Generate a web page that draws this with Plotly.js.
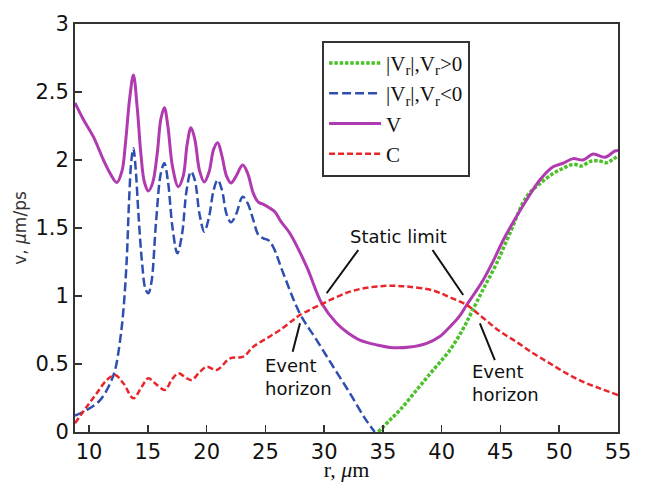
<!DOCTYPE html>
<html><head><meta charset="utf-8">
<script src="https://cdn.plot.ly/plotly-3.0.1.min.js"></script>
<style>html,body{margin:0;padding:0;background:#fff}</style>
</head><body>
<div id="chart" style="width:646px;height:482px"></div>
<script>
// V (solid magenta)
const vX = [8.8, 9.5, 10.37, 11.22, 11.8, 12.36, 12.8, 13.1, 13.45, 13.77, 14.1, 14.4, 14.7, 15.04, 15.4, 15.8, 16.1, 16.4, 16.7, 17.1, 17.59, 18.0, 18.35, 18.67, 19.0, 19.4, 19.8, 20.2, 20.6, 20.94, 21.3, 21.7, 22.07, 22.5, 23.07, 23.5, 23.97, 24.4, 24.8, 25.39, 25.8, 26.3, 27.09, 28.51, 29.79, 31.06, 32.0, 33.04, 34.5, 35.88, 37.3, 38.72, 39.8, 40.7, 41.5, 42.12, 42.8, 43.53, 44.4, 45.23, 46.2, 47.22, 48.35, 49.48, 50.33, 51.18, 52.03, 52.88, 53.88, 54.73, 55];
const vY = [2.42, 2.30, 2.17, 2.0, 1.90, 1.835, 1.92, 2.13, 2.45, 2.625, 2.38, 2.05, 1.84, 1.772, 1.83, 2.05, 2.3, 2.385, 2.25, 1.95, 1.804, 1.88, 2.12, 2.238, 2.15, 1.92, 1.838, 1.91, 2.08, 2.127, 2.03, 1.88, 1.831, 1.88, 1.963, 1.90, 1.755, 1.69, 1.675, 1.645, 1.62, 1.55, 1.46, 1.216, 0.946, 0.799, 0.73, 0.676, 0.64, 0.62, 0.625, 0.652, 0.70, 0.774, 0.85, 0.934, 1.02, 1.118, 1.26, 1.41, 1.56, 1.706, 1.853, 1.95, 1.976, 2.01, 2.00, 2.044, 2.02, 2.066, 2.07];

// |Vr|, Vr<0 (blue dashed)
const negX = [8.8, 9.8, 10.94, 11.79, 12.21, 12.64, 12.92, 13.2, 13.4, 13.6, 13.77, 13.95, 14.2, 14.5, 14.8, 15.04, 15.3, 15.7, 16.1, 16.4, 16.7, 17.1, 17.51, 17.9, 18.3, 18.67, 19.0, 19.4, 19.8, 20.2, 20.6, 20.94, 21.3, 21.7, 22.07, 22.5, 23.07, 23.5, 23.97, 24.4, 24.82, 25.25, 25.67, 26.52, 27.94, 29.36, 30.77, 32.19, 33.47, 34.3];
const negY = [0.12, 0.162, 0.235, 0.358, 0.456, 0.676, 0.897, 1.265, 1.7, 2.0, 2.086, 1.95, 1.6, 1.25, 1.05, 1.02, 1.1, 1.55, 1.9, 1.976, 1.85, 1.5, 1.314, 1.45, 1.78, 1.914, 1.85, 1.6, 1.473, 1.58, 1.78, 1.853, 1.78, 1.6, 1.542, 1.6, 1.73, 1.68, 1.559, 1.45, 1.424, 1.41, 1.36, 1.167, 0.87, 0.676, 0.48, 0.285, 0.10, 0];

// |Vr|, Vr>0 (green dotted)
const posX = [34.6, 35.6, 36.45, 37.87, 39.28, 40.7, 41.83, 42.54, 43.53, 44.67, 45.8, 47.22, 48.4, 49.48, 50.33, 51.18, 51.9, 52.6, 53.3, 54.02, 54.58, 55];
const posY = [0, 0.088, 0.162, 0.309, 0.456, 0.603, 0.76, 0.88, 1.05, 1.24, 1.461, 1.73, 1.83, 1.90, 1.939, 1.968, 1.956, 1.988, 1.995, 1.98, 2.005, 2.03];

// C (red dashed)
const cX = [8.8, 9.8, 10.65, 11.5, 12.21, 12.92, 13.77, 14.48, 15.04, 15.61, 16.46, 17.0, 17.59, 18.31, 18.73, 19.4, 20.01, 20.86, 21.99, 23.12, 23.97, 25.11, 26.24, 27.37, 27.94, 29.92, 32.19, 34.0, 35.5, 37.0, 39.28, 40.7, 42.12, 43.5, 44.95, 46.4, 47.78, 49.2, 50.62, 52.0, 53.45, 55];
const cY = [0.064, 0.186, 0.285, 0.382, 0.419, 0.358, 0.248, 0.333, 0.395, 0.358, 0.309, 0.38, 0.431, 0.395, 0.382, 0.44, 0.48, 0.456, 0.542, 0.554, 0.627, 0.689, 0.75, 0.824, 0.86, 0.946, 1.032, 1.065, 1.075, 1.07, 1.04, 0.99, 0.934, 0.84, 0.74, 0.66, 0.579, 0.505, 0.431, 0.37, 0.321, 0.272];

const xTicks = [10, 15, 20, 25, 30, 35, 40, 45, 50, 55];
const yTicks = [0, 0.5, 1, 1.5, 2, 2.5, 3];

const traces = [
  {x: posX, y: posY, mode: 'lines', name: '|V<sub>r</sub>|,V<sub>r</sub>&gt;0',
   line: {color: '#4cc02a', width: 3.5, dash: '3.5px,1.8px', shape: 'spline'}},
  {x: negX, y: negY, mode: 'lines', name: '|V<sub>r</sub>|,V<sub>r</sub>&lt;0',
   line: {color: '#2f4fb0', width: 2.5, dash: '9px,4px', shape: 'spline'}},
  {x: vX, y: vY, mode: 'lines', name: 'V',
   line: {color: '#b03ab0', width: 3, shape: 'spline'}},
  {x: cX, y: cY, mode: 'lines', name: 'C',
   line: {color: '#e8262a', width: 2.5, dash: '6px,3px', shape: 'spline'}}
];

const ptr = (x0, y0, x1, y1) => ({type: 'line', xref: 'x', yref: 'y', x0, y0, x1, y1,
  line: {color: '#111', width: 2}});

const annFont = {family: 'DejaVu Sans, sans-serif', size: 18, color: '#111'};

const layout = {
  width: 646, height: 482,
  margin: {l: 75, r: 28, t: 24, b: 50},
  paper_bgcolor: '#fff', plot_bgcolor: '#fff',
  showlegend: true,
  legend: {x: 0.455, y: 0.959, xanchor: 'left', yanchor: 'top',
    bordercolor: '#333', borderwidth: 2, bgcolor: '#fff', itemwidth: 52,
    font: {family: 'Liberation Serif, serif', size: 21, color: '#111'}},
  xaxis: {range: [8.8, 55], tickvals: xTicks, ticks: 'inside', ticklen: 7, tickwidth: 1.5,
    tickcolor: '#333', showline: true, linecolor: '#333', linewidth: 2, mirror: true,
    showgrid: false, zeroline: false,
    tickfont: {family: 'DejaVu Sans, sans-serif', size: 21, color: '#111'},
    title: {text: 'r, <i>μ</i>m', font: {family: 'Liberation Serif, serif', size: 22, color: '#111'}, standoff: 5}},
  yaxis: {range: [0, 3], tickvals: yTicks, ticktext: ['0', '0.5', '1', '1.5', '2', '2.5', '3'],
    ticks: 'inside', ticklen: 7, tickwidth: 1.5,
    tickcolor: '#333', showline: true, linecolor: '#333', linewidth: 2, mirror: true,
    showgrid: false, zeroline: false,
    tickfont: {family: 'DejaVu Sans, sans-serif', size: 21, color: '#111'},
    title: {text: 'v, <i>μ</i>m/ps', font: {family: 'DejaVu Sans, sans-serif', size: 17, color: '#333'}, standoff: 4}},
  shapes: [
    ptr(32.9, 1.338, 30.21, 1.02),
    ptr(39.22, 1.338, 41.83, 1.007),
    ptr(27.94, 0.799, 27.32, 0.59),
    ptr(43.25, 0.799, 44.52, 0.529)
  ],
  annotations: [
    {x: 36.36, y: 1.434, xref: 'x', yref: 'y', text: 'Static limit', showarrow: false,
     xanchor: 'center', yanchor: 'middle', font: annFont},
    {x: 24.8, y: 0.404, xref: 'x', yref: 'y', text: 'Event<br>horizon', showarrow: false,
     xanchor: 'left', yanchor: 'middle', align: 'left', font: annFont},
    {x: 42.4, y: 0.36, xref: 'x', yref: 'y', text: 'Event<br>horizon', showarrow: false,
     xanchor: 'left', yanchor: 'middle', align: 'left', font: annFont}
  ]
};

Plotly.newPlot('chart', traces, layout, {displayModeBar: false, staticPlot: true});
</script>
</body></html>
